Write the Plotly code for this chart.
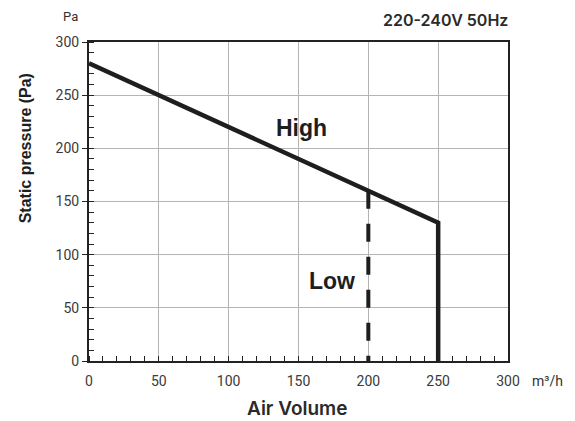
import plotly.graph_objects as go

# Data
high_x = [0, 250, 250]
high_y = [280, 130, 0]
low_x = [200, 200]
low_y = [160, 0]
x_ticks = [0, 50, 100, 150, 200, 250, 300]
y_ticks = [0, 50, 100, 150, 200, 250, 300]

fig = go.Figure()
fig.add_trace(go.Scatter(x=high_x, y=high_y, mode="lines",
                         line=dict(color="#1e1e1e", width=4.5), cliponaxis=False,
                         hoverinfo="skip"))
fig.add_trace(go.Scatter(x=low_x, y=low_y, mode="lines",
                         line=dict(color="#1e1e1e", width=4, dash="18px,15px"),
                         hoverinfo="skip"))

tickfont = dict(family="Roboto, sans-serif", size=14, color="#3a3a3a")

fig.update_layout(
    width=575, height=421,
    margin=dict(l=89, r=67, t=42, b=60),
    plot_bgcolor="white", paper_bgcolor="white",
    showlegend=False,
    xaxis=dict(range=[0, 300], tickvals=x_ticks, ticktext=[str(v) for v in x_ticks],
               showgrid=True, gridcolor="#b4b4b4", gridwidth=1,
               showline=True, linecolor="#222", linewidth=2, mirror=True,
               ticks="", tickfont=tickfont, zeroline=False,
               minor=dict(dtick=10, ticks="inside", ticklen=5, tickcolor="#222",
                          tickwidth=1, showgrid=False),
               ticklabelstandoff=6),
    yaxis=dict(range=[0, 300], tickvals=y_ticks, ticktext=[str(v) for v in y_ticks],
               showgrid=True, gridcolor="#b4b4b4", gridwidth=1,
               showline=True, linecolor="#222", linewidth=2, mirror=True,
               ticks="outside", ticklen=5, tickcolor="#222", tickwidth=1,
               tickfont=tickfont, zeroline=False,
               minor=dict(dtick=10, ticks="inside", ticklen=5, tickcolor="#222",
                          tickwidth=1, showgrid=False)),
)

ann_font_bold = dict(family="Liberation Sans, Arial, sans-serif", size=23, color="#1e1e1e")
fig.add_annotation(x=152.5, y=219, xref="x", yref="y", text="<b>High</b>",
                   showarrow=False, font=ann_font_bold)
fig.add_annotation(x=174, y=75, xref="x", yref="y", text="<b>Low</b>",
                   showarrow=False, font=ann_font_bold)
fig.add_annotation(x=25, y=200, xref="paper", yref="y",
                   text="<b>Static pressure (Pa)</b>", textangle=-90, showarrow=False,
                   font=dict(family="Liberation Sans, Arial, sans-serif", size=16, color="#1e1e1e"))
fig.add_annotation(x=297, y=409, xref="paper", yref="paper", text="Air Volume",
                   showarrow=False,
                   font=dict(family="Inter, sans-serif", size=19, color="#2a2a2a", weight=600))
fig.add_annotation(x=70, y=17, xref="paper", yref="paper", text="Pa", showarrow=False,
                   font=dict(family="Roboto, sans-serif", size=13, color="#333"))
fig.add_annotation(x=445, y=20, xref="paper", yref="paper",
                   text="220-240V 50Hz", showarrow=False,
                   font=dict(family="Inter, sans-serif", size=16, color="#2a2a2a", weight=600))
fig.add_annotation(x=547, y=381, xref="paper", yref="paper",
                   text="m³/h", showarrow=False,
                   font=dict(family="Roboto, sans-serif", size=14, color="#333"))

# convert pixel-based paper coordinates to paper fractions
W, H = 575, 421
L, R, T, B = 89, 67, 42, 60
pw, ph = W - L - R, H - T - B
new_anns = []
for a in fig.layout.annotations:
    d = a.to_plotly_json()
    d["xanchor"] = "center"
    d["yanchor"] = "middle"
    if d.get("xref") == "paper":
        d["x"] = (d["x"] - L) / pw
    if d.get("yref") == "paper":
        d["y"] = (H - B - d["y"]) / ph
    new_anns.append(d)
fig.layout.annotations = new_anns

fig.write_html("out.html", config={"displayModeBar": False},
               post_script="document.body.style.margin='0';document.body.style.overflow='hidden';")
